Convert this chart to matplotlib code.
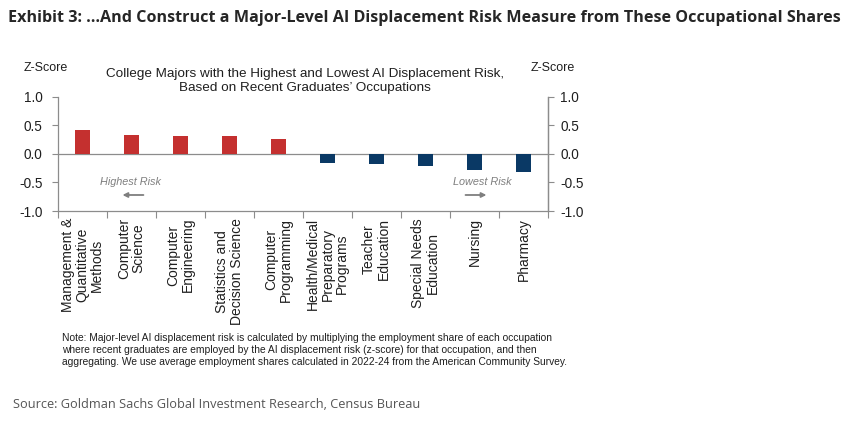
import matplotlib
matplotlib.use("Agg")
import matplotlib.pyplot as plt
import numpy as np

categories = ["Management &\nQuantitative\nMethods", "Computer\nScience", "Computer\nEngineering",
              "Statistics and\nDecision Science", "Computer\nProgramming",
              "Health/Medical\nPreparatory\nPrograms", "Teacher\nEducation",
              "Special Needs\nEducation", "Nursing", "Pharmacy"]
values = [0.42, 0.33, 0.31, 0.31, 0.265, -0.165, -0.18, -0.22, -0.29, -0.315]
yticks = [-1.0, -0.5, 0.0, 0.5, 1.0]

RED = "#C4302F"
NAVY = "#0A3965"
GREY = "#8C8C8C"
TXT = "#1F1F1F"
SANS = ["Liberation Sans", "DejaVu Sans"]

fig = plt.figure(figsize=(8.54, 4.25), dpi=100)
fig.patch.set_facecolor("white")

ax = fig.add_axes([58/854, 1-211/425, (548-58)/854, (211-96.7)/425])
x = np.arange(len(categories))
colors = [RED if v > 0 else NAVY for v in values]
ax.bar(x, values, width=0.32, color=colors, zorder=3)
ax.axhline(0, color=GREY, lw=0.9, zorder=2)

ax.set_xlim(-0.5, len(categories) - 0.5)
ax.set_ylim(-1.0, 1.0)
ax.set_yticks(yticks)
ax.set_yticklabels([f"{t:.1f}" for t in yticks], fontsize=9.8, color=TXT, family=SANS)
ax.tick_params(axis="y", direction="out", length=4, width=0.8, color=GREY, pad=7)
ax.set_xticks(x)
ax.set_xticklabels(categories, rotation=90, fontsize=10, color=TXT, family=SANS,
                   ha="center", va="top", multialignment="center", linespacing=1.05)
ax.tick_params(axis="x", which="major", length=0, pad=5)
ax.set_xticks(np.arange(-0.5, len(categories) + 0.5, 1.0), minor=True)
ax.tick_params(axis="x", which="minor", direction="out", length=5, width=0.8, color=GREY)

for s in ["top"]:
    ax.spines[s].set_visible(False)
for s in ["left", "right", "bottom"]:
    ax.spines[s].set_color(GREY)
    ax.spines[s].set_linewidth(0.9)

ax2 = ax.twinx()
ax2.set_ylim(-1.0, 1.0)
ax2.set_yticks(yticks)
ax2.set_yticklabels([f"{t:.1f}" for t in yticks], fontsize=9.8, color=TXT, family=SANS)
ax2.tick_params(axis="y", direction="out", length=4, width=0.8, color=GREY, pad=5)
for s in ["top", "left", "bottom"]:
    ax2.spines[s].set_visible(False)
ax2.spines["right"].set_color(GREY)
ax2.spines["right"].set_linewidth(0.9)

# Annotations
ax.text(0.97, -0.50, "Highest Risk", fontsize=7.8, style="italic", color="#7F7F7F",
        ha="center", va="center", family=SANS)
ax.annotate("", xy=(0.76, -0.72), xytext=(1.30, -0.72),
            arrowprops=dict(arrowstyle="-|>", color="#7F7F7F", lw=1.3, mutation_scale=7))
ax.text(8.15, -0.50, "Lowest Risk", fontsize=7.8, style="italic", color="#7F7F7F",
        ha="center", va="center", family=SANS)
ax.annotate("", xy=(8.30, -0.72), xytext=(7.76, -0.72),
            arrowprops=dict(arrowstyle="-|>", color="#7F7F7F", lw=1.3, mutation_scale=7))

# Text elements
fig.text(8/854, 1-18/425, "Exhibit 3: \u2026And Construct a Major-Level AI Displacement Risk Measure from These Occupational Shares",
         fontsize=11.65, fontweight="bold", color="#262626", family=["Open Sans", "DejaVu Sans"],
         ha="left", va="center")
fig.text(46/854, 1-68/425, "Z-Score", fontsize=9, color=TXT, family=SANS, ha="center", va="center")
fig.text(553/854, 1-68/425, "Z-Score", fontsize=9, color=TXT, family=SANS, ha="center", va="center")
fig.text(305/854, 1-81/425, "College Majors with the Highest and Lowest AI Displacement Risk,\nBased on Recent Graduates\u2019 Occupations",
         fontsize=9.7, color=TXT, family=SANS, ha="center", va="center", linespacing=1.2)
fig.text(62/854, 1-350/425,
         "Note: Major-level AI displacement risk is calculated by multiplying the employment share of each occupation\n"
         "where recent graduates are employed by the AI displacement risk (z-score) for that occupation, and then\n"
         "aggregating. We use average employment shares calculated in 2022-24 from the American Community Survey.",
         fontsize=7.35, color=TXT, family=SANS, ha="left", va="center", linespacing=1.3)
fig.text(13/854, 1-405/425, "Source: Goldman Sachs Global Investment Research, Census Bureau",
         fontsize=9.15, color="#555555", family=["Open Sans", "DejaVu Sans"], ha="left", va="center")

fig.savefig("out.png", dpi=100, facecolor="white")
